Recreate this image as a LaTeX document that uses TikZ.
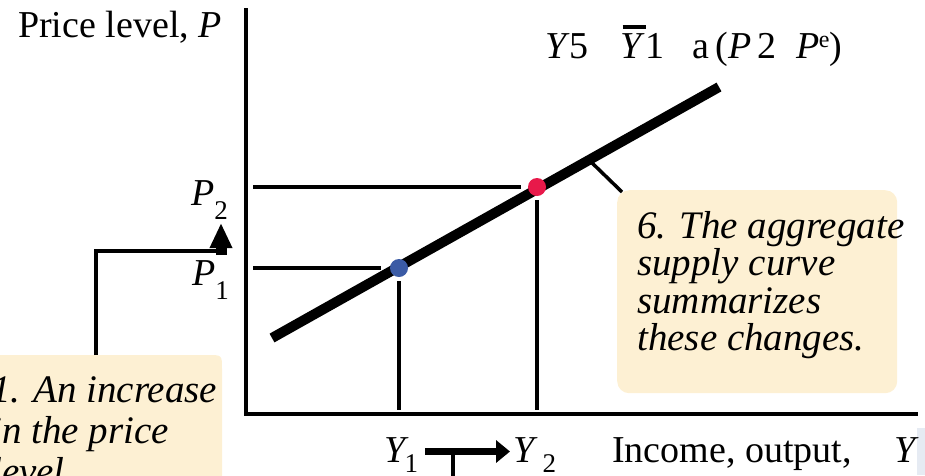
\documentclass[tikz,border=0pt]{standalone}
\usepackage{fontspec}
\setmainfont{Liberation Serif}
\usetikzlibrary{arrows.meta}
\definecolor{cream}{HTML}{FDF0D3}
\definecolor{dotred}{HTML}{E8194A}
\definecolor{dotblue}{HTML}{3B5BA5}
\definecolor{stripgray}{HTML}{E6EBF3}
\newcommand{\bigtxt}{\fontsize{38}{42}\selectfont}
\newcommand{\subtxt}{\fontsize{27}{27}\selectfont}
\newcommand{\psubtxt}{\fontsize{27}{27}\selectfont}
\newcommand{\ybar}{\makebox[0pt][l]{\hspace{2pt}\raisebox{29pt}{\rule{23pt}{4pt}}}\textit{Y}}
\begin{document}
\begin{tikzpicture}[x=1pt,y=-1pt,
  every node/.style={inner sep=0pt, font=\bigtxt},
  axisline/.style={line width=4.5pt},
  guide/.style={line width=3.5pt},
  asline/.style={line width=10pt},
  callout/.style={fill=cream, rounded corners=12pt},
  dotnode/.style={circle, minimum size=18pt},
  boxtext/.style={anchor=base west, font=\fontsize{39}{37.5}\selectfont\itshape}]
\useasboundingbox (0,0) rectangle (925,475);
\fill[stripgray] (917,428) rectangle (925,475);

% callout boxes
\node[callout, minimum width=280pt, minimum height=203pt, anchor=north west] (box6) at (617,190) {};
\fill[cream] (-10,480) -- (-10,355) -- (208,355) .. controls (222,355) .. (222,369) -- (222,480) -- cycle;

% axes
\coordinate (ytop) at (246,8);
\coordinate (orig) at (246,414);
\coordinate (xend) at (918,414);
\draw[axisline] (ytop) -- (orig) -- (xend);

% guide lines
\coordinate (p2l) at (253,187);
\coordinate (p2r) at (521,187);
\coordinate (p1l) at (253,268);
\coordinate (p1r) at (381,268);
\coordinate (y2t) at (537,200);
\coordinate (y2b) at (537,410);
\coordinate (y1t) at (399,281);
\coordinate (y1b) at (399,410);
\draw[guide] (p2l) -- (p2r);
\draw[guide] (p1l) -- (p1r);
\draw[guide] (y2t) -- (y2b);
\draw[guide] (y1t) -- (y1b);

% AS curve
\coordinate (as1) at (272,338);
\coordinate (as2) at (719,87);
\draw[asline] (as1) -- (as2);

% points
\node[dotnode, fill=dotred] (e2) at (537,187) {};
\node[dotnode, fill=dotblue] (e1) at (399,268) {};

% labels
\node[anchor=base west] (ylabel) at (18,37) {Price level, \textit{P}};
\node[anchor=base west] (eq) at (545,58) {\textit{Y}5\hspace{32pt}\ybar 1\hspace{28pt}a\,(\textit{P}\,2\hspace{20pt}\textit{P}\kern-1pt\raisebox{11pt}{\fontsize{24}{24}\selectfont e})};
\node[anchor=base west] (p2lab) at (191,205) {\textit{P}\raisebox{-14pt}{\psubtxt 2}};
\node[anchor=base west] (p1lab) at (192,285) {\textit{P}\raisebox{-14pt}{\psubtxt 1}};
\node[anchor=base west] (y1lab) at (384,462) {\textit{Y}\kern-4pt\raisebox{-10pt}{\subtxt 1}};
\node[anchor=base west] (y2lab) at (513,462) {\textit{Y}\kern5pt\raisebox{-10pt}{\subtxt 2}};
\node[anchor=base west] (xlabel) at (612,462) {Income, output,\hspace{43pt}\textit{Y}};

% callout texts
\node[boxtext] (txt6) at (637,238) {\parbox[t]{270pt}{\raggedright 6. The aggregate\\ supply curve\\ summarizes\\ these changes.}};
\node[boxtext, font=\fontsize{39}{41}\selectfont\itshape] (txt1) at (-9,402) {\parbox[t]{240pt}{\raggedright 1. An increase\\ in the price\\ level}};

% connectors
\coordinate (c6a) at (622,192);
\coordinate (c6b) at (588,159);
\draw[guide] (c6a) -- (c6b);
\coordinate (c1a) at (96,355);
\coordinate (c1b) at (221,251);
\draw[guide] (c1a) |- (c1b);
\coordinate (pa1) at (221,255);
\coordinate (pa2) at (221,223);
\draw[line width=11pt, -{Triangle[width=21pt,length=25pt]}] (pa1) -- (pa2);
\coordinate (ya1) at (425,451.5);
\coordinate (ya2) at (510,451.5);
\draw[line width=7pt, -{Triangle[width=22pt,length=14pt]}] (ya1) -- (ya2);
\coordinate (yd1) at (453,455);
\coordinate (yd2) at (453,478);
\draw[guide] (yd1) -- (yd2);
\end{tikzpicture}
\end{document}
